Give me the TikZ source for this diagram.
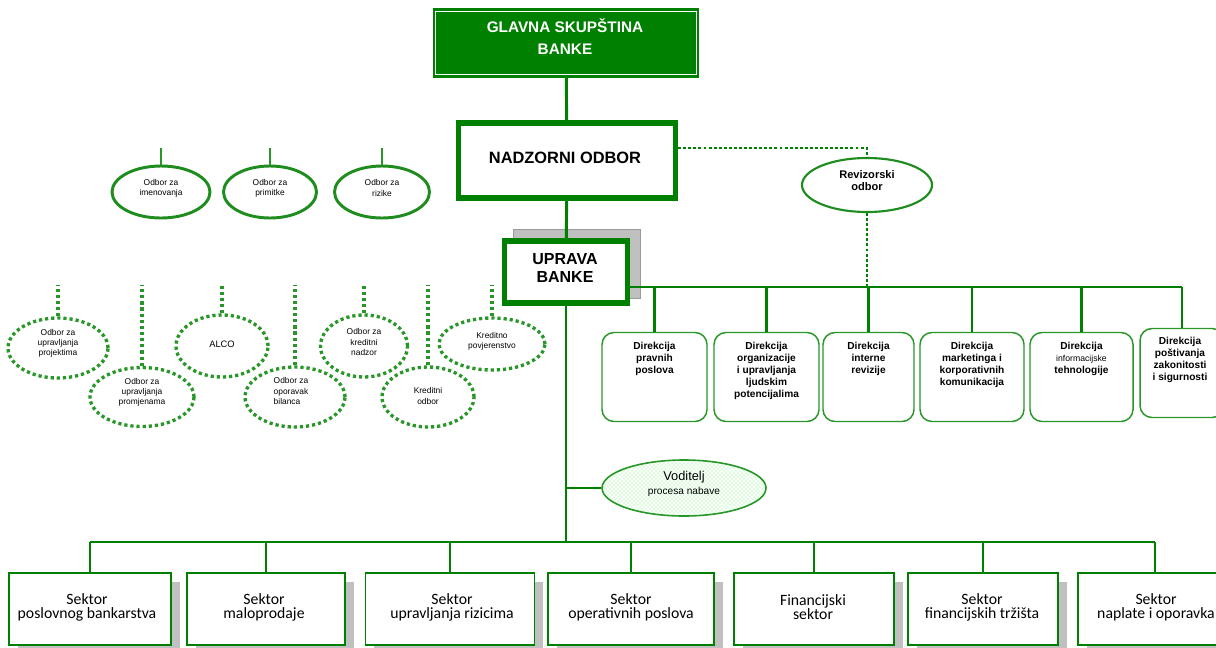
\documentclass[tikz,border=0pt]{standalone}
\usepackage{fontspec}
\setmainfont{Liberation Sans}
\newfontfamily\calib{Carlito}
\usetikzlibrary{shapes.geometric,patterns,calc,shadows}
\definecolor{grn}{RGB}{0,128,0}
\definecolor{grnl}{RGB}{40,150,40}
\definecolor{grnd}{RGB}{30,140,30}
\definecolor{shd}{RGB}{192,192,192}
\begin{document}
\begin{tikzpicture}[x=0.75pt,y=-0.75pt,
  sz/.style 2 args={minimum width=#1*0.75pt, minimum height=#2*0.75pt},
  conn/.style={draw=grn, line width=2.2pt},
  dashconn/.style={draw=grn, line width=0.9pt, dash pattern=on 2.2pt off 1.6pt},
  dotline/.style={draw=grnl, line width=2.5pt, dash pattern=on 2.4pt off 2.2pt},
  solidell/.style={ellipse, draw=grnd, line width=2.2pt, inner sep=0, fill=white},
  smalltxt/.style={font=\fontsize{6.3}{7.6}\selectfont, align=center, inner sep=0},
  dotell/.style={ellipse, draw=grnl, line width=2.5pt, dash pattern=on 2.4pt off 2.2pt, inner sep=0},
  dirbox/.style={draw=grnl, line width=1.1pt, rounded corners=9pt, inner sep=0, fill=white},
  dirtext/.style={font=\bfseries\fontsize{7.6}{9}\selectfont, align=center, anchor=north, inner sep=0},
  secbox/.style={draw=grn, line width=1.1pt, fill=white, inner sep=0,
     drop shadow={fill=shd, opacity=1, shadow xshift=6.5pt, shadow yshift=-6.5pt}},
  sectext/.style={font=\calib\fontsize{11.8}{10.5}\selectfont, align=center, inner sep=0},
  bigbox/.style={draw=grn, line width=4pt, fill=white, inner sep=0},
  bigtext/.style={font=\bfseries\fontsize{12.3}{13.5}\selectfont, align=center, inner sep=0}
]
\useasboundingbox (0,0) rectangle (1216,647);
\clip (0,0) rectangle (1216,647);

% ---------- top levels ----------
\node[draw=grn, fill=grn, line width=1pt, sz={265}{68}, inner sep=0] (gs) at (566,43) {};
\draw[white, line width=0.9pt] ($(gs.north west)+(3,3)$) rectangle ($(gs.south east)+(-3,-3)$);
\node[font=\bfseries\fontsize{11.5}{16.5}\selectfont, text=white, align=center, inner sep=0] (gst) at (565,37) {GLAVNA SKUPŠTINA\\BANKE};

\node[bigbox, sz={217}{75}] (nad) at (567,160.5) {};
\draw[grn, line width=0.8pt] ($(nad.north west)+(5,5)$) rectangle ($(nad.south east)+(-5,-5)$);
\node[bigtext] (nadt) at (565,158) {NADZORNI ODBOR};

\fill[shd, draw=shd!80!black, line width=0.4pt] (513,229) rectangle (640,298);
\node[bigbox, sz={123}{62}] (up) at (566,272) {};
\draw[grn, line width=0.8pt] ($(up.north west)+(5,5)$) rectangle ($(up.south east)+(-5,-5)$);
\node[font=\bfseries\fontsize{12}{13.5}\selectfont, align=center, inner sep=0] (upt) at (565,268) {UPRAVA\\BANKE};

\draw[conn] (gs) -- (nad);
\draw[conn] (nad) -- (up);

% ---------- Revizorski odbor ----------
\node[ellipse, draw=grnd, line width=1.6pt, fill=white, inner sep=0, sz={130}{54}] (rv) at (867,185) {};
\node[font=\bfseries\fontsize{8.3}{9}\selectfont, align=center, inner sep=0] (rvt) at (867,181) {Revizorski\\odbor};
\coordinate (rvk) at (867,148);
\draw[dashconn] (nad.east |- rvk) -- (rvk) -- (rv.north);

% ---------- Nadzorni committees ----------
\node[solidell, sz={98}{52}] (n1) at (161,192) {};
\node[smalltxt] at (161,188) {Odbor  za\\imenovanja};
\node[solidell, sz={93}{52}] (n2) at (270,192) {};
\node[smalltxt] at (270,188) {Odbor  za\\primitke};
\node[solidell, sz={95}{52}] (n3) at (382,192) {};
\node[smalltxt] at (382,188) {Odbor  za\\rizike};
\coordinate (nt) at (0,148);
\draw[draw=grnl, line width=1.4pt] (n1.north) -- (n1.north |- nt);
\draw[draw=grnl, line width=1.4pt] (n2.north) -- (n2.north |- nt);
\draw[draw=grnl, line width=1.4pt] (n3.north) -- (n3.north |- nt);

% ---------- Uprava committees ----------
\node[dotell, sz={100}{60}] (u1) at (58,348) {};
\node[smalltxt] at (58,343) {Odbor  za\\upravljanja\\projektima};
\node[dotell, sz={104}{59}] (u2) at (142,397) {};
\node[smalltxt] at (142,392) {Odbor  za\\upravljanja\\promjenama};
\node[dotell, sz={92}{62}] (u3) at (222,346) {};
\node[smalltxt, font=\fontsize{7}{8}\selectfont] at (222,344) {ALCO};
\node[dotell, sz={100}{60}] (u4) at (295,397) {};
\node[smalltxt, align=left] at (291,391) {Odbor  za\\oporavak\\bilanca};
\node[dotell, sz={87}{62}] (u5) at (364,346) {};
\node[smalltxt] at (364,342) {Odbor  za\\kreditni\\nadzor};
\node[dotell, sz={92}{60}] (u6) at (428,397) {};
\node[smalltxt] at (428,396) {Kreditni\\odbor};
\node[dotell, sz={106}{52}] (u7) at (492,344) {};
\node[smalltxt] at (492,341) {Kreditno\\povjerenstvo};
\coordinate (ut) at (0,285);
\foreach \u in {u1,u2,u3,u4,u5,u6,u7} {
  \draw[dotline] (\u.north) -- (\u.north |- ut);
}

% ---------- Direkcije ----------
\coordinate (busR) at (1182,287);
\node[dirbox, sz={105}{89}] (d1) at (654.5,377) {};
\node[dirbox, sz={105}{89}] (d2) at (766.5,377) {};
\node[dirbox, sz={91}{89}] (d3) at (868.5,377) {};
\node[dirbox, sz={104}{89}] (d4) at (972,377) {};
\node[dirbox, sz={103}{89}] (d5) at (1081.5,377) {};
\node[dirbox, sz={84}{89}] (d6) at (1182,373) {};
\node[dirtext] at ($(d1.north)+(0,10)$) {Direkcija\\pravnih\\poslova};
\node[dirtext] at ($(d2.north)+(0,10)$) {Direkcija\\organizacije\\i upravljanja\\ljudskim\\potencijalima};
\node[dirtext] at ($(d3.north)+(0,10)$) {Direkcija\\interne\\revizije};
\node[dirtext] at ($(d4.north)+(0,10)$) {Direkcija\\marketinga i\\korporativnih\\komunikacija};
\node[dirtext] at ($(d5.north)+(0,10)$) {Direkcija\\{\mdseries\fontsize{6.5}{9}\selectfont informacijske}\\tehnologije};
\node[dirtext] at ($(d6.north)+(-2,9)$) {Direkcija\\poštivanja\\zakonitosti\\i sigurnosti};

\draw[conn] (up.east |- busR) -- (busR);
\foreach \d in {d1,d2,d3,d4,d5,d6} {
  \draw[conn] (\d.north |- busR) -- (\d.north);
}
\draw[dashconn] (rv.south) -- (rv.south |- busR);

% ---------- Voditelj ----------
\node[ellipse, draw=grnl, line width=1.2pt, inner sep=0, sz={164}{56},
      preaction={fill=white}, pattern=crosshatch dots, pattern color=green!55!white] (vod) at (684,488) {};
\node[inner sep=0, align=center] (vodt) at (684,484) {{\fontsize{9.6}{10}\selectfont Voditelj}\\[-1pt]{\fontsize{7.6}{9}\selectfont procesa nabave}};
\draw[conn] (vod.west -| up.south) -- (vod.west);

% ---------- Sektori ----------
\coordinate (bb) at (566,542);
\node[secbox, sz={162}{72}] (s1) at (90,609) {};
\node[secbox, sz={158}{72}] (s2) at (266,609) {};
\node[secbox, sz={169}{72}] (s3) at (450,609) {};
\node[secbox, sz={166}{72}] (s4) at (631,609) {};
\node[secbox, sz={160}{72}] (s5) at (814,609) {};
\node[secbox, sz={150}{72}] (s6) at (983,609) {};
\node[secbox, sz={154}{72}] (s7) at (1155,609) {};
\node[sectext] at (87,607) {Sektor\\poslovnog bankarstva};
\node[sectext] at (264,607) {Sektor\\maloprodaje};
\node[sectext] at (452,607) {Sektor\\upravljanja rizicima};
\node[sectext] at (631,607) {Sektor\\operativnih poslova};
\node[sectext] at (813,607) {Financijski\\sektor};
\node[sectext] at (982,607) {Sektor\\financijskih tržišta};
\node[sectext] at (1156,607) {Sektor\\naplate i oporavka};

\draw[conn] (up.south) -- (bb);
\draw[conn] (s1.north |- bb) -- (s7.north |- bb);
\foreach \s in {s1,s2,s3,s4,s5,s6,s7} {
  \draw[conn] (\s.north |- bb) -- (\s.north);
}
\end{tikzpicture}
\end{document}
